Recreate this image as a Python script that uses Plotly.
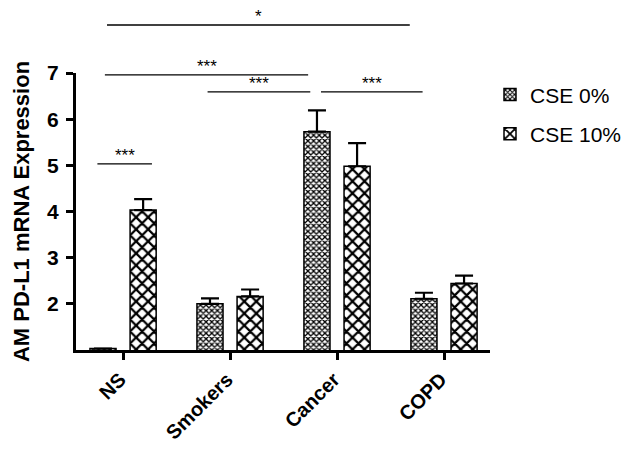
import plotly.graph_objects as go

categories = ["NS", "Smokers", "Cancer", "COPD"]
cse0_values = [1.03, 2.0, 5.73, 2.11]
cse0_errors = [0.0, 0.12, 0.46, 0.13]
cse10_values = [4.03, 2.16, 4.98, 2.44]
cse10_errors = [0.24, 0.15, 0.50, 0.17]
y_ticks = [2, 3, 4, 5, 6, 7]

# significance brackets: start category pos, end category pos, level, label
sig_x0 = [-0.15, -0.17, 0.79, 1.85, -0.24]
sig_x1 = [2.68, 1.73, 1.75, 2.80, 0.27]
sig_level = [8.04, 6.96, 6.59, 6.59, 5.03]
sig_label = ["*", "***", "***", "***", "***"]

Y_MIN, Y_MAX = 1, 7
xpos = list(range(len(categories)))

fig = go.Figure()
fig.add_trace(go.Bar(
    x=xpos, y=cse0_values, name="CSE 0%", legendgroup="a",
    marker=dict(color="white", line=dict(color="black", width=1.5),
                pattern=dict(shape="x", size=4, solidity=0.55, fgcolor="black",
                             fgopacity=1, bgcolor="white")),
    error_y=dict(type="data", symmetric=False, array=cse0_errors, arrayminus=[0]*4,
                 color="black", thickness=2.2, width=9),
))
fig.add_trace(go.Bar(
    x=xpos, y=cse10_values, name="CSE 10%", legendgroup="b",
    marker=dict(color="white", line=dict(color="black", width=1.5),
                pattern=dict(shape="x", size=8.5, solidity=0.45, fgcolor="black",
                             fgopacity=1, bgcolor="white")),
    error_y=dict(type="data", symmetric=False, array=cse10_errors, arrayminus=[0]*4,
                 color="black", thickness=2.2, width=9),
))

def to_paper(v):
    return (v - Y_MIN) / (Y_MAX - Y_MIN)

for x0, x1, lv, lab in zip(sig_x0, sig_x1, sig_level, sig_label):
    fig.add_shape(type="line", xref="x", yref="paper", x0=x0, x1=x1,
                  y0=to_paper(lv), y1=to_paper(lv), line=dict(color="black", width=1.3))
    fig.add_annotation(xref="x", yref="paper", x=(x0 + x1) / 2, y=to_paper(lv),
                       text=lab, showarrow=False, yanchor="bottom", yshift=-3,
                       font=dict(family="Arial", size=17, color="black"))

# page body adds an 8px offset, so the figure is 8px smaller than the window
fig.update_layout(
    width=621, height=444,
    margin=dict(l=68, r=139, t=65, b=102, autoexpand=False),
    plot_bgcolor="white", paper_bgcolor="white",
    barmode="group", bargap=0.25, bargroupgap=0.35,
    font=dict(family="Arial", color="black"),
    showlegend=True,
    legend=dict(x=1.0, y=0.995, xanchor="left", yanchor="top",
                font=dict(family="Arial", size=21, color="black"),
                traceorder="grouped", tracegroupgap=9, itemwidth=30,
                bgcolor="rgba(0,0,0,0)"),
)
fig.update_xaxes(
    range=[-0.44, 3.43], tickmode="array", tickvals=xpos, ticktext=categories,
    tickangle=-45, ticks="outside", ticklen=7, tickwidth=3, tickcolor="black",
    showline=True, linewidth=3, linecolor="black", showgrid=False, zeroline=False,
    automargin=False, ticklabelshift=-3,
    tickfont=dict(family="Arial", size=20, color="black", weight="bold"),
)
fig.update_yaxes(
    range=[Y_MIN, Y_MAX], tickmode="array", tickvals=y_ticks,
    ticks="outside", ticklen=7, tickwidth=3, tickcolor="black",
    showline=True, linewidth=3, linecolor="black", showgrid=False, zeroline=False,
    automargin=False, ticklabelstandoff=3,
    tickfont=dict(family="Arial", size=21, color="black", weight="bold"),
    title=dict(text="<b>AM PD-L1 mRNA Expression</b>", standoff=12,
               font=dict(family="Arial", size=22, color="black")),
)

fig.write_html("out.html")
